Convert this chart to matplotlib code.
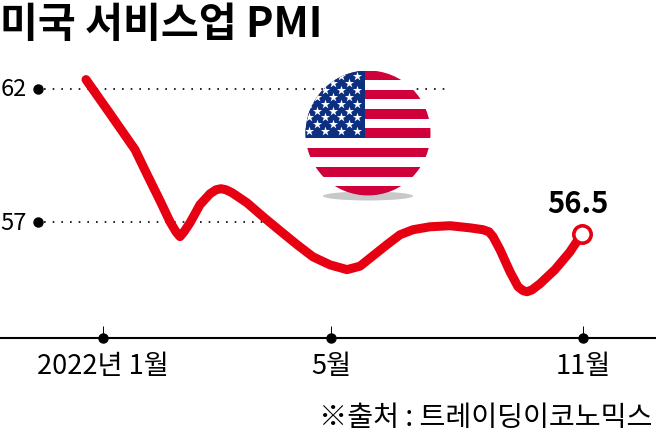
import matplotlib
matplotlib.use('Agg')
import matplotlib.pyplot as plt
from matplotlib.patches import Circle, Ellipse, Rectangle

# curve: x is the horizontal position on the chart, y is the PMI
x_pos = [86, 110, 135, 147, 160, 170, 176, 180, 184, 190, 200, 210, 216, 221, 226, 232, 247, 263,
         280, 297, 313, 330, 347, 360, 373, 387, 400, 413, 430, 450, 470, 483, 489, 493, 500, 510,
         518, 523, 527, 532, 540, 555, 570, 582]
pmi = [62.34, 61.06, 59.71, 58.78, 57.79, 57.00, 56.62, 56.44, 56.62, 56.96, 57.64, 58.05, 58.20,
       58.24, 58.20, 58.09, 57.71, 57.19, 56.66, 56.14, 55.68, 55.38, 55.20, 55.33, 55.72, 56.14,
       56.51, 56.70, 56.81, 56.85, 56.77, 56.70, 56.62, 56.44, 55.95, 55.12, 54.56, 54.41, 54.37,
       54.44, 54.67, 55.20, 55.87, 56.55]

tick_pos = [103, 331, 583]
tick_labels = ['2022년 1월', '5월', '11월']
y_levels = [62, 57]
y_level_ends = [447, 265]
last_label = '56.5'
title = '미국 서비스업 PMI'
source = '※출처 : 트레이딩이코노믹스'

korean = ['Noto Sans CJK KR', 'DejaVu Sans']
RED = '#e60012'

fig = plt.figure(figsize=(6.56, 4.32), dpi=100)
ax = fig.add_axes([0, 0, 1, 1])
ax.set_xlim(0, 656)
ax.set_ylim(49.1, 65.33)
for s in ['top', 'left', 'right']:
    ax.spines[s].set_visible(False)
base = 49.1 + (432 - 338) / 26.6
ax.spines['bottom'].set_position(('data', base))
ax.spines['bottom'].set_linewidth(1.5)
ax.set_yticks([])

ax.set_xticks(tick_pos)
ax.set_xticklabels(tick_labels, family=korean, fontsize=19.6)
ax.tick_params(axis='x', direction='in', length=9, width=0.7, pad=11)
ax.plot(tick_pos, [base] * 3, 'o', color='black', ms=6.5, clip_on=False, zorder=4)

for lev, end in zip(y_levels, y_level_ends):
    ax.plot([44, end], [lev, lev], color='black', lw=1.2, dashes=(1, 4.2), zorder=1)
    ax.plot([38], [lev], 'o', color='black', ms=6.5, zorder=2)
    ax.text(27, lev - 0.05, str(lev), family=korean, fontsize=17, ha='right', va='center')

ax.plot(x_pos, pmi, color=RED, lw=6.5, solid_capstyle='round', solid_joinstyle='round', zorder=3)
ax.plot(x_pos[-1], pmi[-1], 'o', mfc='white', mec=RED, mew=2.6, ms=12.5, zorder=5)
ax.text(578, pmi[-1] + 0.55, last_label, family=korean, fontweight='bold', fontsize=21,
        ha='center', va='bottom')

fig.text(0, 1 - 37 / 432, title, family=korean, fontweight='bold', fontsize=29.7, va='baseline')
fig.text(652 / 656, 1 - 426 / 432, source, family=korean, fontsize=20.3, ha='right', va='baseline')

# flag, drawn in picture pixels on top of the chart
fa = fig.add_axes([0, 0, 1, 1], facecolor='none')
fa.set_xlim(0, 656)
fa.set_ylim(432, 0)
fa.axis('off')
fa.add_patch(Ellipse((368, 196), 90, 9, color='#c8c8c8', lw=0))
disc = Circle((368, 133), 62.5, color='white', lw=0)
fa.add_patch(disc)
clip = Circle((368, 133), 62.5, transform=fa.transData)
top = 70.5
for i in range(0, 13, 2):
    r = fa.add_patch(Rectangle((300, top + i * 9.65), 140, 9.65, color='#d0003a', lw=0))
    r.set_clip_path(clip)
r = fa.add_patch(Rectangle((300, top), 65, 67.6, color='#0c2f80', lw=0))
r.set_clip_path(clip)
sx, sy = [], []
for row in range(9):
    cols = [356.7, 340.7, 325, 309] if row % 2 == 0 else [349, 333, 317]
    for c in cols:
        sx.append(c)
        sy.append(76 + row * 6.9)
st = fa.scatter(sx, sy, marker='*', s=48, color='white', lw=0)
st.set_clip_path(clip)

plt.savefig('out.png', dpi=100)
